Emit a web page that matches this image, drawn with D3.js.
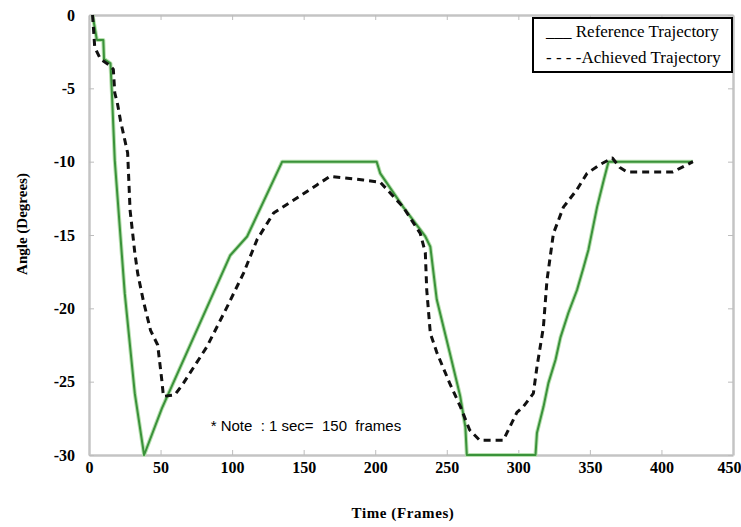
<!DOCTYPE html>
<html>
<head>
<meta charset="utf-8">
<script src="https://cdn.jsdelivr.net/npm/d3@7"></script>
<style>
  body { margin: 0; background: #fff; }
  svg { display: block; }
</style>
</head>
<body>
<svg id="chart" width="741" height="527"></svg>
<script>
const width = 741;
const height = 527;
const margin = { top: 15, right: 8, bottom: 72, left: 89 };
const chartWidth = width - margin.left - margin.right;
const chartHeight = height - margin.top - margin.bottom;

// values
const xTicks = [0, 50, 100, 150, 200, 250, 300, 350, 400, 450];
const yTicks = [0, -5, -10, -15, -20, -25, -30];

const refFrames = [2.5, 5.5, 10, 10.5, 15, 16, 18, 25, 32, 38.5, 51, 98.6, 110.5, 135, 201, 203.5, 219.6, 235, 238.5, 243, 252, 259.4, 263, 264, 312, 313, 317.6, 321, 326, 329.4, 335, 341, 345.6, 349, 355, 359.7, 363, 422];
const refAngles = [0, -1.7, -1.7, -3.0, -3.3, -5.3, -9.9, -19, -25.8, -30, -26.8, -16.4, -15.1, -10, -10, -10.8, -13.1, -15.1, -15.8, -19.4, -23, -26, -28.1, -30, -30, -28.5, -26.7, -25.1, -23.5, -22, -20.3, -18.75, -17.2, -16, -13.1, -11.25, -10, -10];

const achFrames = [2.5, 4, 8, 14, 17, 18, 20, 22, 27, 28.7, 32, 34, 38, 43, 48, 51, 52, 60, 66, 82.5, 96.5, 108, 117.5, 129, 145, 159, 168.5, 191.6, 203.5, 219.6, 231.5, 235, 236, 238.5, 243, 252, 259.5, 266, 273, 289.5, 299, 303.5, 310.5, 313, 317.5, 320, 324.5, 331.5, 341, 348, 357, 365.7, 371, 376, 408, 418, 422];
const achAngles = [0, -2.2, -3.0, -3.4, -3.7, -5.3, -6.1, -7.2, -9.4, -13.3, -16.2, -17.6, -19.5, -21.5, -22.5, -25, -26, -25.9, -25.1, -22.6, -19.9, -17.6, -15.3, -13.5, -12.5, -11.6, -11.0, -11.25, -11.4, -13.1, -14.9, -16.2, -18.75, -21.7, -23, -25.1, -26.7, -28.3, -29, -29, -27.1, -26.7, -25.8, -24, -21.3, -18.1, -14.9, -13.1, -11.9, -10.8, -10.2, -9.75, -10.4, -10.7, -10.7, -10.2, -10];

const legendLabels = ["___ Reference Trajectory", "- - - -Achieved Trajectory"];
const noteText = "* Note  : 1 sec=  150  frames";

const serif = "'Liberation Serif', 'Times New Roman', serif";

const svg = d3.select("#chart");
const g = svg.append("g").attr("transform", `translate(${margin.left},${margin.top})`);

const x = d3.scaleLinear().domain([0, 450]).range([0, chartWidth]);
const y = d3.scaleLinear().domain([-30, 0]).range([chartHeight, 0]);

const frameColor = "#c4c4c4";
const fmt = d => String(d); // plain hyphen minus like the original

// axes (ticks point inward)
const styleAxis = sel => {
  sel.attr("font-family", serif).attr("font-size", 16).attr("font-weight", "bold");
  sel.select(".domain").attr("stroke", frameColor).attr("stroke-width", 2.5);
  sel.selectAll(".tick line").attr("stroke", "#bdbdbd").attr("stroke-width", 1);
  sel.selectAll(".tick text").attr("fill", "#000");
};

const xAxis = g.append("g")
  .attr("transform", `translate(0,${chartHeight})`)
  .call(d3.axisBottom(x).tickValues(xTicks).tickFormat(fmt).tickSize(-5).tickSizeOuter(0).tickPadding(7))
  .call(styleAxis);
// keep the last label inside the page
xAxis.selectAll(".tick text").filter(d => d === 450).attr("text-anchor", "end").attr("dx", 8);

g.append("g")
  .call(d3.axisLeft(y).tickValues(yTicks).tickFormat(fmt).tickSize(-5).tickSizeOuter(0).tickPadding(14))
  .call(styleAxis);

g.append("g")
  .call(d3.axisTop(x).tickValues(xTicks).tickSize(-5).tickSizeOuter(0).tickFormat(""))
  .call(styleAxis);

g.append("g")
  .attr("transform", `translate(${chartWidth},0)`)
  .call(d3.axisRight(y).tickValues(yTicks).tickSize(-5).tickSizeOuter(0).tickFormat(""))
  .call(styleAxis);

const line = d3.line().x(d => x(d[0])).y(d => y(d[1]));

const refData = refFrames.map((f, i) => [f, refAngles[i]]);
const achData = achFrames.map((f, i) => [f, achAngles[i]]);

// reference trajectory (green, with soft halo)
g.append("path")
  .datum(refData)
  .attr("fill", "none")
  .attr("stroke", "#b8e0b0")
  .attr("stroke-width", 4)
  .attr("stroke-linejoin", "round")
  .attr("d", line);

g.append("path")
  .datum(refData)
  .attr("fill", "none")
  .attr("stroke", "#3a923a")
  .attr("stroke-width", 2)
  .attr("stroke-linejoin", "round")
  .attr("d", line);

// achieved trajectory (black dashed)
g.append("path")
  .datum(achData)
  .attr("fill", "none")
  .attr("stroke", "#111")
  .attr("stroke-width", 3)
  .attr("stroke-dasharray", "7,5")
  .attr("stroke-linejoin", "round")
  .attr("d", line);

// note
g.append("text")
  .attr("x", x(85))
  .attr("y", y(-28.1))
  .attr("font-family", "'Liberation Sans', Arial, sans-serif")
  .attr("font-size", 15)
  .attr("dominant-baseline", "middle")
  .style("white-space", "pre")
  .text(noteText);

// legend
const legend = svg.append("g").attr("transform", "translate(533,18)");
legend.append("rect")
  .attr("width", 199)
  .attr("height", 54)
  .attr("fill", "#fff")
  .attr("stroke", "#000")
  .attr("stroke-width", 2);
legend.selectAll("text")
  .data(legendLabels).enter()
  .append("text")
  .attr("x", 13)
  .attr("y", (d, i) => 15 + i * 26)
  .attr("dominant-baseline", "middle")
  .attr("font-family", serif)
  .attr("font-size", 17)
  .style("white-space", "pre")
  .text(d => d);

// axis titles
svg.append("text")
  .attr("x", 403)
  .attr("y", 518)
  .attr("text-anchor", "middle")
  .attr("font-family", serif)
  .attr("font-weight", "bold")
  .attr("font-size", 15)
  .attr("letter-spacing", 0.6)
  .text("Time (Frames)");

svg.append("text")
  .attr("transform", "translate(27,224) rotate(-90)")
  .attr("text-anchor", "middle")
  .attr("font-family", serif)
  .attr("font-weight", "bold")
  .attr("font-size", 15)
  .text("Angle (Degrees)");
</script>
</body>
</html>
